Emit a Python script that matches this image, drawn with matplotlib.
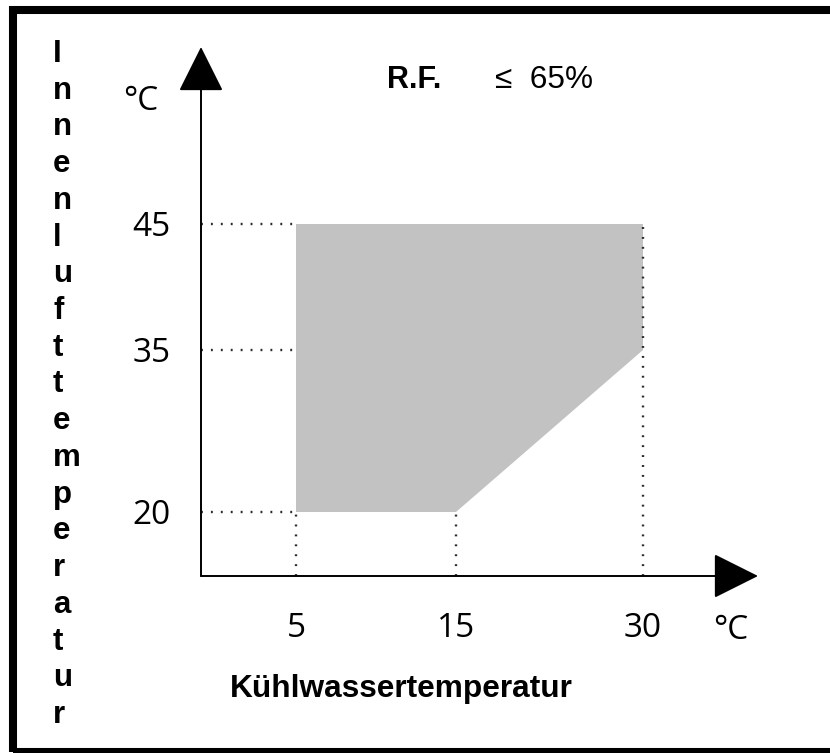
import numpy as np
import matplotlib
matplotlib.use("Agg")
import matplotlib.pyplot as plt
from matplotlib.patches import Rectangle

# data (schematic operating range)
x_ticks = [5, 15, 30]
y_ticks = [20, 35, 45]
region_x = [5, 5, 30, 30, 15]
region_y = [20, 45, 45, 35, 20]
x_label = "Kühlwassertemperatur"
y_label = "Innenlufttemperatur"
unit = "°C"
rf_label = "R.F."
rf_value = "≤ 65%"

# the drawing is not to scale: each tick sits at its own distance on the axis
x_lim = (0, 39)
y_lim = (14, 59)
x_breaks = [x_lim[0]] + x_ticks + [x_lim[1]]
y_breaks = [y_lim[0]] + y_ticks + [y_lim[1]]
x_px = [0, 95, 255, 442, 557]
y_px = [0, 64, 226, 352, 529]

W, H = 830, 753
fig = plt.figure(figsize=(W / 100, H / 100), dpi=100)
ax = fig.add_axes([201 / W, (H - 576) / H, 557 / W, 529 / H])


def schematic(breaks, px):
    return (lambda v: np.interp(v, breaks, px),
            lambda p: np.interp(p, px, breaks))


ax.set_xscale("function", functions=schematic(x_breaks, x_px))
ax.set_yscale("function", functions=schematic(y_breaks, y_px))
ax.set_xlim(*x_lim)
ax.set_ylim(*y_lim)
for s in ax.spines.values():
    s.set_visible(False)

# grey region
ax.fill(region_x, region_y, color="#c2c2c2", lw=0, zorder=1)

# dotted guide lines
dot = dict(color="#2a2a2a", lw=1.7, ls=(0, (0.8, 3.4)), clip_on=False)
for y in y_ticks:
    ax.plot([x_lim[0], region_x[0]], [y, y], zorder=2, **dot)
ax.plot([x_ticks[0], x_ticks[0]], [y_lim[0], min(region_y)], zorder=2, **dot)
ax.plot([x_ticks[1], x_ticks[1]], [y_lim[0], min(region_y)], zorder=2, **dot)
ax.plot([x_ticks[2], x_ticks[2]], [y_lim[0], max(region_y)], zorder=3, **dot)

# axes with arrow heads
arrow = dict(arrowstyle="-|>,head_length=28.8,head_width=14.4",
             mutation_scale=1, color="black", lw=1.4,
             shrinkA=0, shrinkB=0)
ax.annotate("", xy=(x_lim[1], y_lim[0]), xytext=(x_lim[0], y_lim[0]),
            arrowprops=arrow, annotation_clip=False)
ax.annotate("", xy=(x_lim[0], y_lim[1]), xytext=(x_lim[0], y_lim[0]),
            arrowprops=arrow, annotation_clip=False)

tick_font = "Open Sans"
ax.set_xticks(x_ticks)
ax.set_yticks(y_ticks)
ax.set_xticklabels([str(v) for v in x_ticks], family=tick_font,
                   fontsize=24)
ax.set_yticklabels([str(v) for v in y_ticks], family=tick_font,
                   fontsize=24)
ax.tick_params(axis="x", length=0, pad=26)
ax.tick_params(axis="y", length=0, pad=22)
ax.minorticks_off()

# units
fig.text(123 / W, 1 - 110 / H, unit, family=tick_font, fontsize=24,
         va="baseline")
fig.text(713 / W, 1 - 639 / H, unit, family=tick_font, fontsize=24,
         va="baseline")

# labels
arial = "Liberation Sans"
fig.text(387 / W, 1 - 88 / H, rf_label, family=arial, fontsize=22,
         fontweight="bold", va="baseline")
fig.text(495 / W, 1 - 88 / H, rf_value.replace(" ", "  "), family=arial,
         fontsize=22.7, va="baseline")
fig.text(230 / W, 1 - 697 / H, x_label, family=arial, fontsize=22.8,
         fontweight="bold", va="baseline")
step = (723 - 62) / (len(y_label) - 1)
for i, ch in enumerate(y_label):
    fig.text(53 / W, 1 - (62 + i * step) / H, ch, family=arial,
             fontsize=22.5, fontweight="bold", va="baseline")

# frame (right side falls outside the picture)
fig.add_artist(Rectangle((12.5 / W, 1 / H), 850 / W, (752 - 10) / H,
                         transform=fig.transFigure, fill=False,
                         lw=5.8, ec="black"))

fig.savefig("out.png", dpi=100)
